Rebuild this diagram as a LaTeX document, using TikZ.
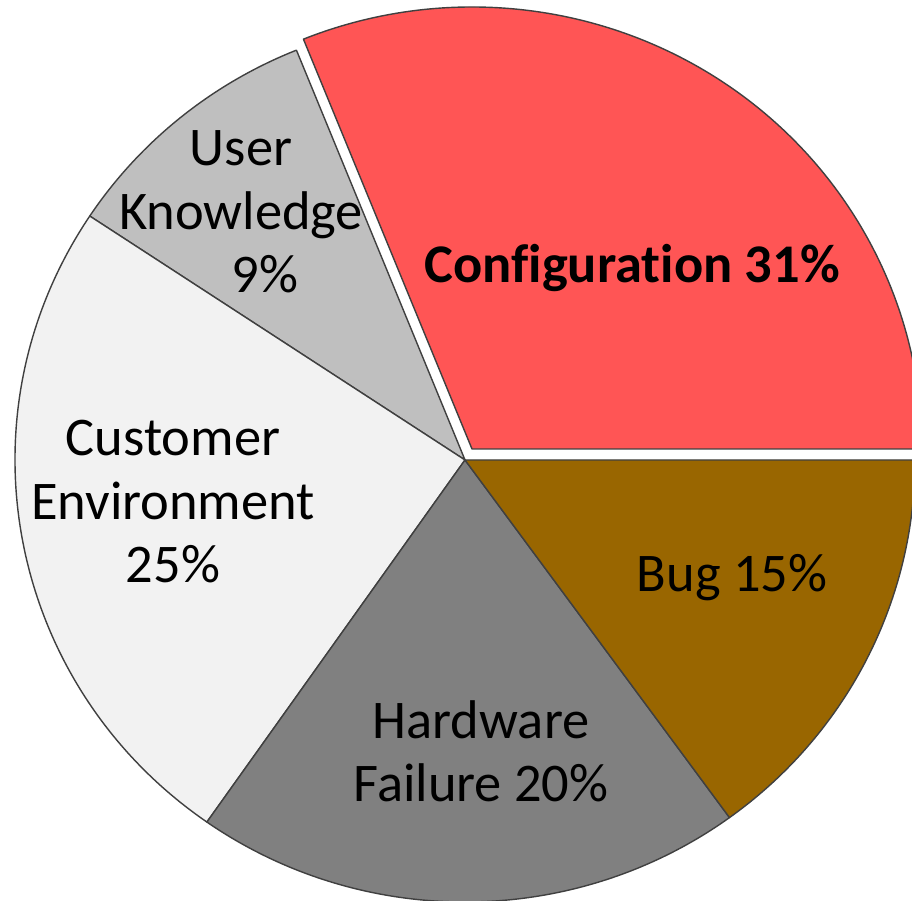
\documentclass[tikz,border=0pt]{standalone}
\usepackage{fontspec}
\setmainfont[Ligatures=NoCommon]{Carlito}
\definecolor{cfgred}{RGB}{255,85,85}
\definecolor{usergray}{RGB}{191,191,191}
\definecolor{custgray}{RGB}{242,242,242}
\definecolor{hwgray}{RGB}{128,128,128}
\definecolor{bugbrown}{RGB}{153,102,0}
\tikzset{
  slice/.style={draw=black!75, line width=0.8pt, line join=round},
  lbl/.style={font=\fontsize{31}{36.3}\selectfont, align=center, inner sep=0pt, anchor=base, text=black}
}
\begin{document}
\begin{tikzpicture}[x=0.02cm,y=0.02cm]
\useasboundingbox (0,0) rectangle (912,901);
\clip (0,0) rectangle (912,901);
\coordinate (c) at (465,441);
\coordinate (cc) at (472,452);
% Configuration (exploded)
\draw[slice, fill=cfgred] (cc) -- ++(0:450 and 442) arc[start angle=0, end angle=112, x radius=450, y radius=442] -- cycle;
% User Knowledge
\draw[slice, fill=usergray] (c) -- ++(112:450 and 442) arc[start angle=112, end angle=146.5, x radius=450, y radius=442] -- cycle;
% Customer Environment
\draw[slice, fill=custgray] (c) -- ++(146.5:450 and 442) arc[start angle=146.5, end angle=235, x radius=450, y radius=442] -- cycle;
% Hardware Failure
\draw[slice, fill=hwgray] (c) -- ++(235:450 and 442) arc[start angle=235, end angle=306, x radius=450, y radius=442] -- cycle;
% Bug
\draw[slice, fill=bugbrown] (c) -- ++(306:450 and 442) arc[start angle=306, end angle=360, x radius=450, y radius=442] -- cycle;
% Labels
\node[lbl, font=\fontsize{31}{36.3}\selectfont\bfseries] (cfg) at (632,618) {Configuration 31\%};
\node[lbl] (usr) at (241,608) {User\\Knowledge\\\hspace*{0.96cm}9\%};
\node[lbl] (cust) at (173,318) {Customer\\Environment\\25\%};
\node[lbl] (hw) at (481,99) {Hardware\\Failure 20\%};
\node[lbl] (bug) at (732,309) {Bug 15\%};
\end{tikzpicture}
\end{document}
